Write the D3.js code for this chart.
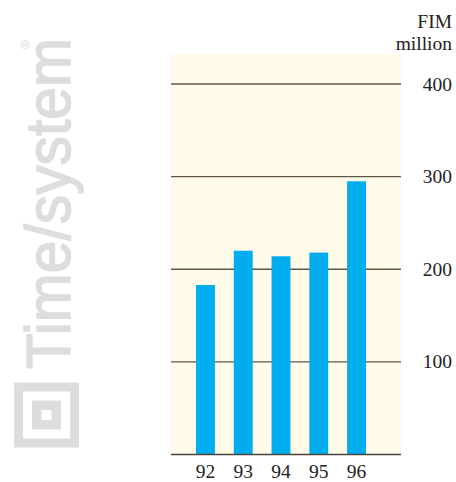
<!DOCTYPE html>
<html>
<head>
<meta charset="utf-8">
<script src="https://cdn.jsdelivr.net/npm/d3@7"></script>
<style>
  html, body { margin: 0; padding: 0; background: #ffffff; }
  svg { display: block; }
</style>
</head>
<body>
<svg id="chart" width="456" height="482"></svg>
<script>
// ---- data ----
const years = ["92", "93", "94", "95", "96"];
const values = [183, 220, 214, 218, 295];
const yTicks = [100, 200, 300, 400];
const unitLines = ["FIM", "million"];
const logoText = "Time/system";

// ---- layout ----
const svg = d3.select("#chart");
const panel = { left: 171, right: 401, top: 54, bottom: 455 };
const y = d3.scaleLinear().domain([0, 400]).range([454.5, 84]);
const x = d3.scaleBand().domain(years).range([196, 366]).paddingInner(0.5).paddingOuter(0);

const serif = "'Liberation Serif', 'DejaVu Serif', serif";
const textCol = "#222222";

// panel background
svg.append("rect")
  .attr("x", panel.left).attr("y", panel.top)
  .attr("width", panel.right - panel.left).attr("height", panel.bottom - panel.top)
  .attr("fill", "#fffbe8");

// gridlines
svg.append("g").selectAll("line").data(yTicks).join("line")
  .attr("x1", panel.left).attr("x2", panel.right)
  .attr("y1", d => y(d)).attr("y2", d => y(d))
  .attr("stroke", "#5c574a").attr("stroke-width", 1.3);

// bars
svg.append("g").selectAll("rect").data(values).join("rect")
  .attr("x", (d, i) => x(years[i]))
  .attr("width", x.bandwidth())
  .attr("y", d => y(d))
  .attr("height", d => y(0) - y(d))
  .attr("fill", "#00adef");

// baseline
svg.append("line")
  .attr("x1", panel.left).attr("x2", panel.right)
  .attr("y1", y(0)).attr("y2", y(0))
  .attr("stroke", "#4a463c").attr("stroke-width", 1.5);

// y tick labels (right)
svg.append("g").selectAll("text").data(yTicks).join("text")
  .attr("x", 452).attr("y", d => y(d) + 6.5)
  .attr("text-anchor", "end")
  .attr("font-family", serif).attr("font-size", 19.5)
  .attr("fill", textCol)
  .text(d => d);

// unit label
svg.append("g").selectAll("text").data(unitLines).join("text")
  .attr("x", 452).attr("y", (d, i) => 28 + i * 22)
  .attr("text-anchor", "end")
  .attr("font-family", serif).attr("font-size", 19.5)
  .attr("fill", textCol)
  .text(d => d);

// x labels
svg.append("g").selectAll("text").data(years).join("text")
  .attr("x", d => x(d) + x.bandwidth() / 2)
  .attr("y", 478)
  .attr("text-anchor", "middle")
  .attr("font-family", serif).attr("font-size", 19.5)
  .attr("fill", textCol)
  .text(d => d);

// ---- logo (decorative) ----
const logoCol = "#dcdddf";
const logo = svg.append("g");
const cx = 46.5, cy = 415;
[[65, logoCol], [47, "#ffffff"], [29, logoCol], [10, "#ffffff"]].forEach(([s, c]) => {
  logo.append("rect").attr("x", cx - s / 2).attr("y", cy - s / 2)
    .attr("width", s).attr("height", s).attr("fill", c);
});
logo.append("text")
  .attr("transform", "translate(70,369) rotate(-90)")
  .attr("font-family", "'Liberation Sans', Arial, sans-serif")
  .attr("font-size", 63)
  .attr("textLength", 331)
  .attr("lengthAdjust", "spacingAndGlyphs")
  .attr("fill", logoCol)
  .attr("stroke", logoCol)
  .attr("stroke-width", 1.6)
  .attr("stroke-linejoin", "round")
  .text(logoText);
logo.append("text")
  .attr("transform", "translate(30,49) rotate(-90)")
  .attr("font-family", "'Liberation Sans', Arial, sans-serif")
  .attr("font-size", 12)
  .attr("fill", logoCol)
  .text("®");
</script>
</body>
</html>
